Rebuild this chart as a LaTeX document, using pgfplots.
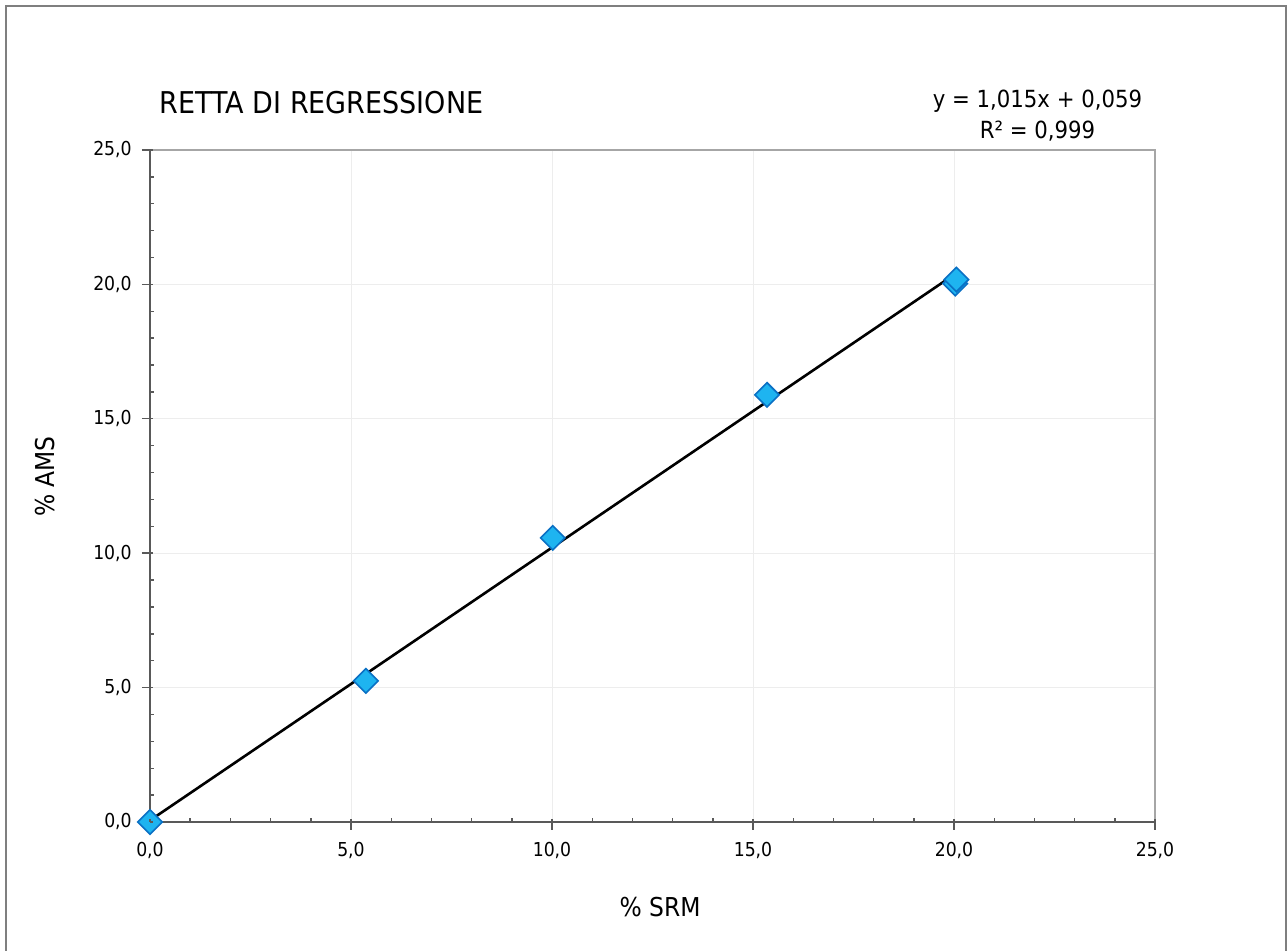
\documentclass[border=0pt]{standalone}
\usepackage{pgfplots}
\pgfplotsset{compat=1.18}
\usepackage{fontspec}
\setmainfont{DejaVu Sans}[FakeStretch=0.9]
\definecolor{mkfill}{HTML}{1EB4F0}
\definecolor{mkdraw}{HTML}{0A70C4}
\definecolor{axdark}{HTML}{595959}
\definecolor{axlight}{HTML}{A6A6A6}
\definecolor{gridc}{HTML}{EDEDED}
\definecolor{framec}{HTML}{7F7F7F}
\begin{document}
\begin{tikzpicture}
\useasboundingbox (0,0) rectangle (643.5pt,475.5pt);
\fill[white] (0,0) rectangle (643.5pt,475.5pt);
\draw[framec, line width=1pt] (3pt,-5pt) -- (3pt,472.5pt) -- (643pt,472.5pt) -- (643pt,-5pt);
\node[anchor=west, inner sep=0pt, font=\fontsize{15}{18}\selectfont] at (79.5pt,424pt) {RETTA DI REGRESSIONE};
\node[align=center, font=\fontsize{11.8}{15.5}\selectfont] at (518.75pt,417.5pt) {y = 1,015x + 0,059\\R² = 0,999};
\begin{axis}[
  at={(75pt,64.5pt)}, anchor=south west,
  scale only axis, width=502.5pt, height=336pt,
  xmin=0, xmax=25, ymin=0, ymax=25,
  xtick={0,5,...,25}, ytick={0,5,...,25},
  axis lines*=left,
  axis line style={axdark, line width=1pt},
  tick align=outside, major tick length=4pt,
  tick style={axdark, line width=0.7pt},
  grid=major, major grid style={gridc, line width=0.5pt},
  clip=false,
  /pgf/number format/.cd, use comma, fixed, fixed zerofill, precision=1, assume math mode=true,
  /pgfplots/.cd,
  ticklabel style={font=\fontsize{9.6}{12}\selectfont},
  xticklabel shift=2.8pt, yticklabel shift=1.6pt,
  xlabel={\% SRM}, ylabel={\% AMS},
  label style={font=\fontsize{13}{15}\selectfont},
  xlabel style={at={(axis description cs:0.5075,0)}, anchor=center, yshift=-42.5pt},
  ylabel style={at={(axis description cs:-0.1045,0.514)}, anchor=center},
]
\draw[axlight, line width=1pt] (rel axis cs:0,1) -- (rel axis cs:1,1) -- (rel axis cs:1,0);
\addplot[only marks, mark=square*, mark size=4.3pt, mark options={rotate=45, fill=mkfill, draw=mkdraw, line width=0.8pt}]
  coordinates {(0,0) (5.37,5.25) (10.02,10.57) (15.35,15.89) (20.03,20.03) (20.06,20.18)};
\addplot[black, line width=1.3pt] coordinates {(0,0.059) (20.06,20.42)};
\end{axis}
\begin{axis}[
  at={(75pt,64.5pt)}, anchor=south west,
  scale only axis, width=502.5pt, height=336pt,
  xmin=0, xmax=25, ymin=0, ymax=25,
  xtick={0,5,...,25}, ytick={0,5,...,25},
  minor x tick num=4, minor y tick num=4,
  axis lines*=left, axis line style={draw=none},
  tick align=inside, major tick length=1.5pt, minor tick length=2pt,
  tick style={axdark, line width=0.7pt},
  xticklabels={}, yticklabels={},
]
\end{axis}
\end{tikzpicture}
\end{document}
